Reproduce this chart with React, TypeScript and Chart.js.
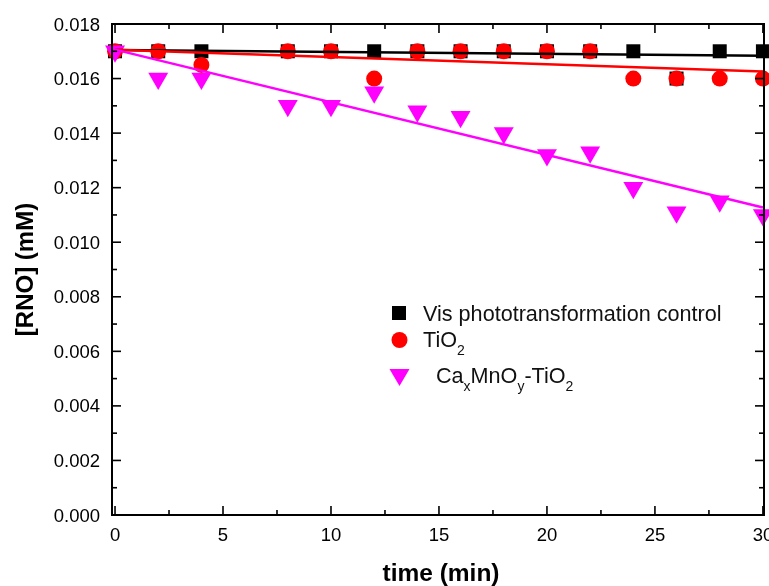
import React, { useEffect, useRef } from 'react';
import { Chart, registerables } from 'chart.js';

Chart.register(...registerables);

// ---- data ----
const times = [0, 2, 4, 8, 10, 12, 14, 16, 18, 20, 22, 24, 26, 28, 30];
const visControl = [0.017, 0.017, 0.017, 0.017, 0.017, 0.017, 0.017, 0.017, 0.017, 0.017, 0.017, 0.017, 0.016, 0.017, 0.017];
const tio2 = [0.017, 0.017, 0.0165, 0.017, 0.017, 0.016, 0.017, 0.017, 0.017, 0.017, 0.017, 0.016, 0.016, 0.016, 0.016];
const caMnO = [0.017, 0.016, 0.016, 0.015, 0.015, 0.0155, 0.0148, 0.0146, 0.014, 0.0132, 0.0133, 0.012, 0.0111, 0.0115, 0.011];

const fitTimes = [0, 30];
const visFit = [0.01705, 0.01684];
const tio2Fit = [0.01706, 0.01626];
const caMnOFit = [0.01706, 0.01127];

const xMajorTicks = [0, 5, 10, 15, 20, 25, 30];
const xTickLabels = ['0', '5', '10', '15', '20', '25', '30'];
const xMinorTicks = [2.5, 7.5, 12.5, 17.5, 22.5, 27.5];
const yMajorTicks = [0, 0.002, 0.004, 0.006, 0.008, 0.01, 0.012, 0.014, 0.016, 0.018];
const yTickLabels = ['0.000', '0.002', '0.004', '0.006', '0.008', '0.010', '0.012', '0.014', '0.016', '0.018'];
const yMinorTicks = [0.001, 0.003, 0.005, 0.007, 0.009, 0.011, 0.013, 0.015, 0.017];

const xTitle = 'time (min)';
const yTitle = '[RNO] (mM)';

const BLACK = '#000000';
const RED = '#ff0000';
const MAGENTA = '#ff00ff';
const FONT = '"Liberation Sans", Arial, Helvetica, sans-serif';

const pts = (xs: number[], ys: number[]) => xs.map((x, i) => ({ x, y: ys[i] }));

function drawRuns(ctx: CanvasRenderingContext2D, x: number, y: number, runs: { t: string; sub?: boolean }[], size: number, subSize: number, subDrop: number) {
  let cx = x;
  for (const r of runs) {
    if (r.sub) {
      ctx.font = `${subSize}px ${FONT}`;
      ctx.fillText(r.t, cx, y + subDrop);
    } else {
      ctx.font = `${size}px ${FONT}`;
      ctx.fillText(r.t, cx, y);
    }
    cx += ctx.measureText(r.t).width;
  }
}

const framePlugin = {
  id: 'originFrame',
  afterDraw(chart: any) {
    const { ctx, chartArea: a, scales } = chart;
    const xs = scales.x;
    const ys = scales.y;
    ctx.save();
    ctx.strokeStyle = BLACK;
    ctx.fillStyle = BLACK;
    // frame
    ctx.lineWidth = 2;
    ctx.strokeRect(a.left, a.top, a.right - a.left, a.bottom - a.top);
    ctx.lineWidth = 1.6;
    const seg = (x1: number, y1: number, x2: number, y2: number) => {
      ctx.beginPath();
      ctx.moveTo(x1, y1);
      ctx.lineTo(x2, y2);
      ctx.stroke();
    };
    const xTick = (v: number, len: number) => {
      const px = xs.getPixelForValue(v);
      seg(px, a.bottom, px, a.bottom - len);
      seg(px, a.top, px, a.top + len);
    };
    const yTick = (v: number, len: number) => {
      const py = ys.getPixelForValue(v);
      seg(a.left, py, a.left + len, py);
      seg(a.right, py, a.right - len, py);
    };
    xMajorTicks.forEach((v) => xTick(v, 9));
    xMinorTicks.forEach((v) => xTick(v, 5));
    yMajorTicks.forEach((v) => yTick(v, 9));
    yMinorTicks.forEach((v) => yTick(v, 5));

    // tick labels
    ctx.font = `18.5px ${FONT}`;
    ctx.textBaseline = 'alphabetic';
    ctx.textAlign = 'center';
    xMajorTicks.forEach((v, i) => {
      ctx.fillText(xTickLabels[i], xs.getPixelForValue(v), a.bottom + 26);
    });
    ctx.textAlign = 'right';
    yMajorTicks.forEach((v, i) => {
      ctx.fillText(yTickLabels[i], a.left - 12, ys.getPixelForValue(v) + 6.5);
    });

    // axis titles
    ctx.font = `bold 24.5px ${FONT}`;
    ctx.textAlign = 'center';
    ctx.fillText(xTitle, (a.left + a.right) / 2 + 3, 581);
    ctx.save();
    ctx.translate(33, (a.top + a.bottom) / 2);
    ctx.rotate(-Math.PI / 2);
    ctx.font = `bold 24px ${FONT}`;
    ctx.fillText(yTitle, 0, 0);
    ctx.restore();

    // legend
    ctx.textAlign = 'left';
    ctx.fillStyle = BLACK;
    ctx.fillRect(392, 306, 14, 14);
    ctx.fillStyle = RED;
    ctx.beginPath();
    ctx.arc(399.5, 340, 8, 0, Math.PI * 2);
    ctx.fill();
    ctx.fillStyle = MAGENTA;
    ctx.beginPath();
    ctx.moveTo(389.5, 369);
    ctx.lineTo(409.5, 369);
    ctx.lineTo(399.5, 386);
    ctx.closePath();
    ctx.fill();
    ctx.fillStyle = '#111111';
    drawRuns(ctx, 423, 321, [{ t: 'Vis phototransformation control' }], 21.6, 14, 0);
    drawRuns(ctx, 423, 347, [{ t: 'TiO' }, { t: '2', sub: true }], 21.6, 14, 8);
    drawRuns(ctx, 436, 383, [
      { t: 'Ca' }, { t: 'x', sub: true }, { t: 'MnO' }, { t: 'y', sub: true }, { t: '-TiO' }, { t: '2', sub: true },
    ], 21.6, 14, 8);
    ctx.restore();
  },
};

export default function App() {
  const ref = useRef<HTMLCanvasElement | null>(null);
  useEffect(() => {
    document.body.style.margin = '0';
    const canvas = ref.current;
    if (!canvas) return;
    const chart = new Chart(canvas, {
      type: 'scatter',
      data: {
        datasets: [
          {
            type: 'line',
            label: 'CaMnO fit',
            data: pts(fitTimes, caMnOFit),
            borderColor: MAGENTA,
            borderWidth: 2.5,
            pointRadius: 0,
            showLine: true,
            fill: false,
            order: 0,
            clip: false,
          },
          {
            type: 'line',
            label: 'TiO2 fit',
            data: pts(fitTimes, tio2Fit),
            borderColor: RED,
            borderWidth: 2.5,
            pointRadius: 0,
            showLine: true,
            fill: false,
            order: 1,
            clip: false,
          },
          {
            type: 'line',
            label: 'Vis fit',
            data: pts(fitTimes, visFit),
            borderColor: BLACK,
            borderWidth: 2.5,
            pointRadius: 0,
            showLine: true,
            fill: false,
            order: 2,
            clip: false,
          },
          {
            label: 'CaxMnOy-TiO2',
            data: pts(times, caMnO),
            pointStyle: 'triangle',
            rotation: 180,
            pointRadius: 11.5,
            backgroundColor: MAGENTA,
            borderColor: MAGENTA,
            borderWidth: 0,
            order: 3,
            clip: false,
          } as any,
          {
            label: 'TiO2',
            data: pts(times, tio2),
            pointStyle: 'circle',
            pointRadius: 8,
            backgroundColor: RED,
            borderColor: RED,
            borderWidth: 0,
            order: 4,
            clip: false,
          },
          {
            label: 'Vis phototransformation control',
            data: pts(times, visControl),
            pointStyle: 'rect',
            pointRadius: 9.9,
            backgroundColor: BLACK,
            borderColor: BLACK,
            borderWidth: 0,
            order: 5,
            clip: false,
          },
        ] as any,
      },
      options: {
        responsive: false,
        animation: false,
        events: [],
        layout: { autoPadding: false, padding: { top: 24, right: 5, left: 0, bottom: 0 } },
        plugins: { legend: { display: false }, tooltip: { enabled: false } },
        scales: {
          x: {
            type: 'linear',
            min: -0.14,
            max: 30.05,
            grid: { display: false },
            border: { display: false },
            ticks: { display: false },
            afterFit: (s: any) => { s.height = 71; },
          },
          y: {
            type: 'linear',
            min: 0,
            max: 0.018,
            grid: { display: false },
            border: { display: false },
            ticks: { display: false },
            afterFit: (s: any) => { s.width = 112; },
          },
        },
      } as any,
      plugins: [framePlugin],
    });
    return () => chart.destroy();
  }, []);
  return (
    <div style={{ position: 'absolute', left: 0, top: 0, width: 769, height: 586, background: '#fff' }}>
      <canvas ref={ref} width={769} height={586} style={{ display: 'block' }} />
    </div>
  );
}
